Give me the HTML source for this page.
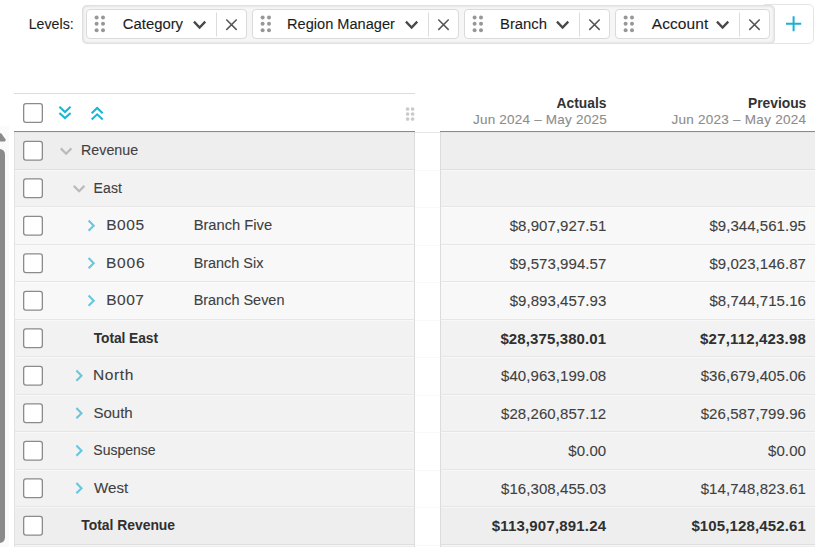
<!DOCTYPE html>
<html><head><meta charset="utf-8"><title>Levels</title>
<style>
html,body{margin:0;padding:0;background:#fff;}
body{width:815px;height:547px;position:relative;overflow:hidden;font-family:"Liberation Sans",sans-serif;}
.t{position:absolute;white-space:pre;line-height:1;font-family:"Liberation Sans",sans-serif;-webkit-text-stroke:0.1px currentColor;}
.a{position:absolute;box-sizing:border-box;}
svg{position:absolute;left:0;top:0;overflow:visible;}
.lv{background:#f6f6f6;border-radius:5px;box-shadow:inset 0 0 3px 1px #d2d5d5;}
.chip{background:#fff;border:1px solid #dadada;border-radius:4px;}
.plus{background:#fff;border:1px solid #e4e4e4;border-radius:5px;}
.r0{background:#eeeeee;border-bottom-color:#dedede !important;}
.r1{background:#f2f2f2;}
.r2{background:#f8f8f8;}
.row{left:14px;width:401px;border-left:1px solid #e2e2e2;border-right:1px solid #dcdcdc;border-bottom:1px solid #e6e6e6;box-shadow:inset 0 1px 0 rgba(255,255,255,.45);}
.rrow{left:440px;width:375px;border-left:1px solid #dcdcdc;border-bottom:1px solid #e6e6e6;box-shadow:inset 0 1px 0 rgba(255,255,255,.45);}
.b{font-weight:700;-webkit-text-stroke:0;}

</style></head>
<body>
<div class="a plus" style="left:761px;top:4px;width:52.5px;height:39.5px"></div>
<div class="a lv" style="left:82px;top:5px;width:692.5px;height:38.7px"></div>
<div class="a chip" style="left:86px;top:9px;width:161px;height:30px"></div>
<div class="a chip" style="left:252px;top:9px;width:207px;height:30px"></div>
<div class="a chip" style="left:464px;top:9px;width:146px;height:30px"></div>
<div class="a chip" style="left:615px;top:9px;width:155px;height:30px"></div>
<div class="a" style="left:14px;top:93px;width:401px;height:1px;background:#dcdcdc"></div>
<div class="a" style="left:14px;top:131px;width:401px;height:1px;background:#8a8a8a"></div>
<div class="a" style="left:440px;top:131px;width:375px;height:1px;background:#8a8a8a"></div>
<div class="a" style="left:415px;top:132px;width:25px;height:1px;background:#e4e6e6"></div>
<div class="a" style="left:0;top:126px;width:9px;height:421px;background:#fafafa"></div>
<div class="a" style="left:-6px;top:148.5px;width:11.3px;height:394.5px;background:#8a8a8a;border-radius:5.5px"></div>
<div class="a row r0" style="top:132px;height:38px"></div>
<div class="a rrow r0" style="top:132px;height:38px"></div>
<div class="a row r1" style="top:170px;height:37px"></div>
<div class="a rrow r1" style="top:170px;height:37px"></div>
<div class="a row r2" style="top:207px;height:38px"></div>
<div class="a rrow r2" style="top:207px;height:38px"></div>
<div class="a row r2" style="top:245px;height:37px"></div>
<div class="a rrow r2" style="top:245px;height:37px"></div>
<div class="a row r2" style="top:282px;height:38px"></div>
<div class="a rrow r2" style="top:282px;height:38px"></div>
<div class="a row r1" style="top:320px;height:37px"></div>
<div class="a rrow r1" style="top:320px;height:37px"></div>
<div class="a row r1" style="top:357px;height:38px"></div>
<div class="a rrow r1" style="top:357px;height:38px"></div>
<div class="a row r1" style="top:395px;height:37px"></div>
<div class="a rrow r1" style="top:395px;height:37px"></div>
<div class="a row r1" style="top:432px;height:38px"></div>
<div class="a rrow r1" style="top:432px;height:38px"></div>
<div class="a row r1" style="top:470px;height:37px"></div>
<div class="a rrow r1" style="top:470px;height:37px"></div>
<div class="a row r0" style="top:507px;height:38px"></div>
<div class="a rrow r0" style="top:507px;height:38px"></div>
<div class="a row r0" style="top:545px;height:4px"></div>
<div class="a" style="left:15px;top:132px;width:399px;height:1px;background:#e7e7e7"></div>
<div class="a" style="left:441px;top:132px;width:374px;height:1px;background:#e7e7e7"></div>
<div class="a" style="left:415px;top:170px;width:25px;height:1px;background:#f8f8f8"></div>
<div class="a" style="left:415px;top:207px;width:25px;height:1px;background:#f8f8f8"></div>
<div class="a" style="left:415px;top:245px;width:25px;height:1px;background:#f8f8f8"></div>
<div class="a" style="left:415px;top:282px;width:25px;height:1px;background:#f8f8f8"></div>
<div class="a" style="left:415px;top:320px;width:25px;height:1px;background:#f8f8f8"></div>
<div class="a" style="left:415px;top:357px;width:25px;height:1px;background:#f8f8f8"></div>
<div class="a" style="left:415px;top:395px;width:25px;height:1px;background:#f8f8f8"></div>
<div class="a" style="left:415px;top:432px;width:25px;height:1px;background:#f8f8f8"></div>
<div class="a" style="left:415px;top:470px;width:25px;height:1px;background:#f8f8f8"></div>
<div class="a" style="left:415px;top:507px;width:25px;height:1px;background:#f8f8f8"></div>
<div class="a" style="left:415px;top:545px;width:25px;height:1px;background:#f8f8f8"></div>
<div class="a rrow r0" style="top:545px;height:4px"></div>
<svg width="815" height="547" viewBox="0 0 815 547" fill="none">
<circle cx="96.6" cy="17.4" r="2" fill="#979797"/>
<circle cx="96.6" cy="23.8" r="2" fill="#979797"/>
<circle cx="96.6" cy="30.2" r="2" fill="#979797"/>
<circle cx="103.0" cy="17.4" r="2" fill="#979797"/>
<circle cx="103.0" cy="23.8" r="2" fill="#979797"/>
<circle cx="103.0" cy="30.2" r="2" fill="#979797"/>
<path d="M226.3 19.5L236.7 29.9M236.7 19.5L226.3 29.9" stroke="#555" stroke-width="1.5"/>
<path d="M216.5 12.5V36.5" stroke="#dcdcdc" stroke-width="1"/>
<path d="M193.95 21.6L199.60 27.6L205.25 21.6" stroke="#484848" stroke-width="2.3"/>
<circle cx="262.6" cy="17.4" r="2" fill="#979797"/>
<circle cx="262.6" cy="23.8" r="2" fill="#979797"/>
<circle cx="262.6" cy="30.2" r="2" fill="#979797"/>
<circle cx="269.0" cy="17.4" r="2" fill="#979797"/>
<circle cx="269.0" cy="23.8" r="2" fill="#979797"/>
<circle cx="269.0" cy="30.2" r="2" fill="#979797"/>
<path d="M438.3 19.5L448.7 29.9M448.7 19.5L438.3 29.9" stroke="#555" stroke-width="1.5"/>
<path d="M428.5 12.5V36.5" stroke="#dcdcdc" stroke-width="1"/>
<path d="M405.95 21.6L411.60 27.6L417.25 21.6" stroke="#484848" stroke-width="2.3"/>
<circle cx="474.6" cy="17.4" r="2" fill="#979797"/>
<circle cx="474.6" cy="23.8" r="2" fill="#979797"/>
<circle cx="474.6" cy="30.2" r="2" fill="#979797"/>
<circle cx="481.0" cy="17.4" r="2" fill="#979797"/>
<circle cx="481.0" cy="23.8" r="2" fill="#979797"/>
<circle cx="481.0" cy="30.2" r="2" fill="#979797"/>
<path d="M589.3 19.5L599.7 29.9M599.7 19.5L589.3 29.9" stroke="#555" stroke-width="1.5"/>
<path d="M579.5 12.5V36.5" stroke="#dcdcdc" stroke-width="1"/>
<path d="M556.95 21.6L562.60 27.6L568.25 21.6" stroke="#484848" stroke-width="2.3"/>
<circle cx="625.6" cy="17.4" r="2" fill="#979797"/>
<circle cx="625.6" cy="23.8" r="2" fill="#979797"/>
<circle cx="625.6" cy="30.2" r="2" fill="#979797"/>
<circle cx="632.0" cy="17.4" r="2" fill="#979797"/>
<circle cx="632.0" cy="23.8" r="2" fill="#979797"/>
<circle cx="632.0" cy="30.2" r="2" fill="#979797"/>
<path d="M749.3 19.5L759.7 29.9M759.7 19.5L749.3 29.9" stroke="#555" stroke-width="1.5"/>
<path d="M739.5 12.5V36.5" stroke="#dcdcdc" stroke-width="1"/>
<path d="M716.95 21.6L722.60 27.6L728.25 21.6" stroke="#484848" stroke-width="2.3"/>
<path d="M786 23.7H801.2M793.6 16.2V31.2" stroke="#1bb1d3" stroke-width="2"/>
<path d="M59.4 106.8L65 112L70.6 106.8M59.4 112.9L65 118.1L70.6 112.9" stroke="#1bb5d6" stroke-width="2.05"/>
<path d="M91.7 113.2L97.2 108L102.7 113.2M91.7 119.5L97.2 114.3L102.7 119.5" stroke="#1bb5d6" stroke-width="2.05"/>
<circle cx="407.6" cy="109" r="1.85" fill="#cacaca"/>
<circle cx="407.6" cy="114" r="1.85" fill="#cacaca"/>
<circle cx="407.6" cy="119" r="1.85" fill="#cacaca"/>
<circle cx="412.6" cy="109" r="1.85" fill="#cacaca"/>
<circle cx="412.6" cy="114" r="1.85" fill="#cacaca"/>
<circle cx="412.6" cy="119" r="1.85" fill="#cacaca"/>
<path d="M0 133.2L1.2 133.2L5.6 139.6Q6 141.3 4.6 141.4L0 141.4Z" fill="#8a8a8a"/>
<path d="M60.800000000000004 148.39999999999998L66.1 153.70000000000002L71.39999999999999 148.39999999999998" stroke="#bababa" stroke-width="2.2"/>
<path d="M73.8 185.89999999999998L79.1 191.20000000000002L84.39999999999999 185.89999999999998" stroke="#bababa" stroke-width="2.2"/>
<path d="M88.60000000000001 220.45000000000002L93.7 225.65L88.60000000000001 230.85" stroke="#66c7de" stroke-width="2.1"/>
<path d="M88.60000000000001 257.95L93.7 263.15L88.60000000000001 268.34999999999997" stroke="#66c7de" stroke-width="2.1"/>
<path d="M88.60000000000001 295.45L93.7 300.65L88.60000000000001 305.84999999999997" stroke="#66c7de" stroke-width="2.1"/>
<path d="M76.4 370.45L81.5 375.65L76.4 380.84999999999997" stroke="#66c7de" stroke-width="2.1"/>
<path d="M76.4 407.95L81.5 413.15L76.4 418.34999999999997" stroke="#66c7de" stroke-width="2.1"/>
<path d="M76.4 445.45L81.5 450.65L76.4 455.84999999999997" stroke="#66c7de" stroke-width="2.1"/>
<path d="M76.4 482.95L81.5 488.15L76.4 493.34999999999997" stroke="#66c7de" stroke-width="2.1"/>
<rect x="23.65" y="141.45" width="18.7" height="18.7" rx="2.3" fill="#fff" stroke="#8b8b8b" stroke-width="1.3"/>
<rect x="23.65" y="178.95" width="18.7" height="18.7" rx="2.3" fill="#fff" stroke="#8b8b8b" stroke-width="1.3"/>
<rect x="23.65" y="216.45" width="18.7" height="18.7" rx="2.3" fill="#fff" stroke="#8b8b8b" stroke-width="1.3"/>
<rect x="23.65" y="253.95" width="18.7" height="18.7" rx="2.3" fill="#fff" stroke="#8b8b8b" stroke-width="1.3"/>
<rect x="23.65" y="291.45" width="18.7" height="18.7" rx="2.3" fill="#fff" stroke="#8b8b8b" stroke-width="1.3"/>
<rect x="23.65" y="328.95" width="18.7" height="18.7" rx="2.3" fill="#fff" stroke="#8b8b8b" stroke-width="1.3"/>
<rect x="23.65" y="366.45" width="18.7" height="18.7" rx="2.3" fill="#fff" stroke="#8b8b8b" stroke-width="1.3"/>
<rect x="23.65" y="403.95" width="18.7" height="18.7" rx="2.3" fill="#fff" stroke="#8b8b8b" stroke-width="1.3"/>
<rect x="23.65" y="441.45" width="18.7" height="18.7" rx="2.3" fill="#fff" stroke="#8b8b8b" stroke-width="1.3"/>
<rect x="23.65" y="478.95" width="18.7" height="18.7" rx="2.3" fill="#fff" stroke="#8b8b8b" stroke-width="1.3"/>
<rect x="23.65" y="516.45" width="18.7" height="18.7" rx="2.3" fill="#fff" stroke="#8b8b8b" stroke-width="1.3"/>
<rect x="23.65" y="103.65" width="18.7" height="18.7" rx="2.3" fill="#fff" stroke="#8b8b8b" stroke-width="1.3"/>
</svg>
<span class="t" style="left:28.63px;top:17px;font-size:14.18px;color:#1c1c1c;letter-spacing:0.036px;">Levels:</span>
<span class="t" style="left:122.80px;top:17px;font-size:14.85px;color:#1c1c1c;letter-spacing:0.001px;">Category</span>
<span class="t" style="left:287.00px;top:17px;font-size:14.59px;color:#1c1c1c;letter-spacing:0.010px;">Region Manager</span>
<span class="t" style="left:499.98px;top:17px;font-size:14.83px;color:#1c1c1c;letter-spacing:0.019px;">Branch</span>
<span class="t" style="left:651.84px;top:16px;font-size:15.50px;color:#1c1c1c;letter-spacing:0.063px;">Account</span>
<span class="t b" style="left:556.57px;top:97px;font-size:13.80px;color:#333333;">Actuals</span>
<span class="t" style="left:472.98px;top:113px;font-size:13.50px;color:#8c8c8c;letter-spacing:0.213px;">Jun 2024 – May 2025</span>
<span class="t b" style="left:747.93px;top:97px;font-size:13.87px;color:#333333;letter-spacing:-0.025px;">Previous</span>
<span class="t" style="left:671.44px;top:113px;font-size:13.50px;color:#8c8c8c;letter-spacing:0.260px;">Jun 2023 – May 2024</span>
<span class="t" style="left:81.07px;top:143px;font-size:14.23px;color:#404040;letter-spacing:0.017px;">Revenue</span>
<span class="t" style="left:93.62px;top:181px;font-size:14.04px;color:#404040;letter-spacing:0.079px;">East</span>
<span class="t" style="left:106.17px;top:217px;font-size:15.50px;color:#404040;letter-spacing:0.556px;">B005</span>
<span class="t" style="left:193.63px;top:218px;font-size:14.71px;color:#404040;letter-spacing:0.003px;">Branch Five</span>
<span class="t" style="left:105.92px;top:255px;font-size:15.50px;color:#404040;letter-spacing:0.841px;">B006</span>
<span class="t" style="left:193.63px;top:256px;font-size:14.41px;color:#404040;letter-spacing:0.010px;">Branch Six</span>
<span class="t" style="left:106.17px;top:292px;font-size:15.50px;color:#404040;letter-spacing:0.535px;">B007</span>
<span class="t" style="left:193.63px;top:293px;font-size:14.45px;color:#404040;letter-spacing:0.010px;">Branch Seven</span>
<span class="t b" style="left:93.75px;top:332px;font-size:13.80px;color:#303030;letter-spacing:-0.075px;">Total East</span>
<span class="t" style="left:92.92px;top:367px;font-size:15.50px;color:#404040;letter-spacing:0.616px;">North</span>
<span class="t" style="left:93.57px;top:405px;font-size:15.04px;color:#404040;letter-spacing:-0.037px;">South</span>
<span class="t" style="left:93.34px;top:443px;font-size:14.02px;color:#404040;letter-spacing:-0.009px;">Suspense</span>
<span class="t" style="left:93.88px;top:480px;font-size:15.10px;color:#404040;letter-spacing:0.099px;">West</span>
<span class="t b" style="left:81.27px;top:519px;font-size:13.92px;color:#303030;letter-spacing:-0.018px;">Total Revenue</span>
<span class="t" style="left:509.70px;top:218px;font-size:15.00px;color:#404040;letter-spacing:0.052px;">$8,907,927.51</span>
<span class="t" style="left:709.40px;top:218px;font-size:15.00px;color:#404040;letter-spacing:0.052px;">$9,344,561.95</span>
<span class="t" style="left:509.70px;top:256px;font-size:15.00px;color:#404040;letter-spacing:0.052px;">$9,573,994.57</span>
<span class="t" style="left:709.40px;top:256px;font-size:15.00px;color:#404040;letter-spacing:0.052px;">$9,023,146.87</span>
<span class="t" style="left:509.70px;top:293px;font-size:15.00px;color:#404040;letter-spacing:0.052px;">$9,893,457.93</span>
<span class="t" style="left:709.40px;top:293px;font-size:15.00px;color:#404040;letter-spacing:0.052px;">$8,744,715.16</span>
<span class="t b" style="left:500.40px;top:331px;font-size:15.00px;color:#303030;letter-spacing:0.116px;">$28,375,380.01</span>
<span class="t b" style="left:700.10px;top:331px;font-size:15.00px;color:#303030;letter-spacing:0.176px;">$27,112,423.98</span>
<span class="t" style="left:501.00px;top:368px;font-size:15.00px;color:#404040;letter-spacing:0.073px;">$40,963,199.08</span>
<span class="t" style="left:700.70px;top:368px;font-size:15.00px;color:#404040;letter-spacing:0.073px;">$36,679,405.06</span>
<span class="t" style="left:501.00px;top:406px;font-size:15.00px;color:#404040;letter-spacing:0.073px;">$28,260,857.12</span>
<span class="t" style="left:700.70px;top:406px;font-size:15.00px;color:#404040;letter-spacing:0.073px;">$26,587,799.96</span>
<span class="t" style="left:568.30px;top:443px;font-size:15.00px;color:#404040;letter-spacing:0.091px;">$0.00</span>
<span class="t" style="left:768.00px;top:443px;font-size:15.00px;color:#404040;letter-spacing:0.091px;">$0.00</span>
<span class="t" style="left:501.00px;top:481px;font-size:15.00px;color:#404040;letter-spacing:0.073px;">$16,308,455.03</span>
<span class="t" style="left:700.70px;top:481px;font-size:15.00px;color:#404040;letter-spacing:0.073px;">$14,748,823.61</span>
<span class="t b" style="left:491.70px;top:518px;font-size:15.00px;color:#303030;letter-spacing:0.188px;">$113,907,891.24</span>
<span class="t b" style="left:691.40px;top:518px;font-size:15.00px;color:#303030;letter-spacing:0.133px;">$105,128,452.61</span>
</body></html>
